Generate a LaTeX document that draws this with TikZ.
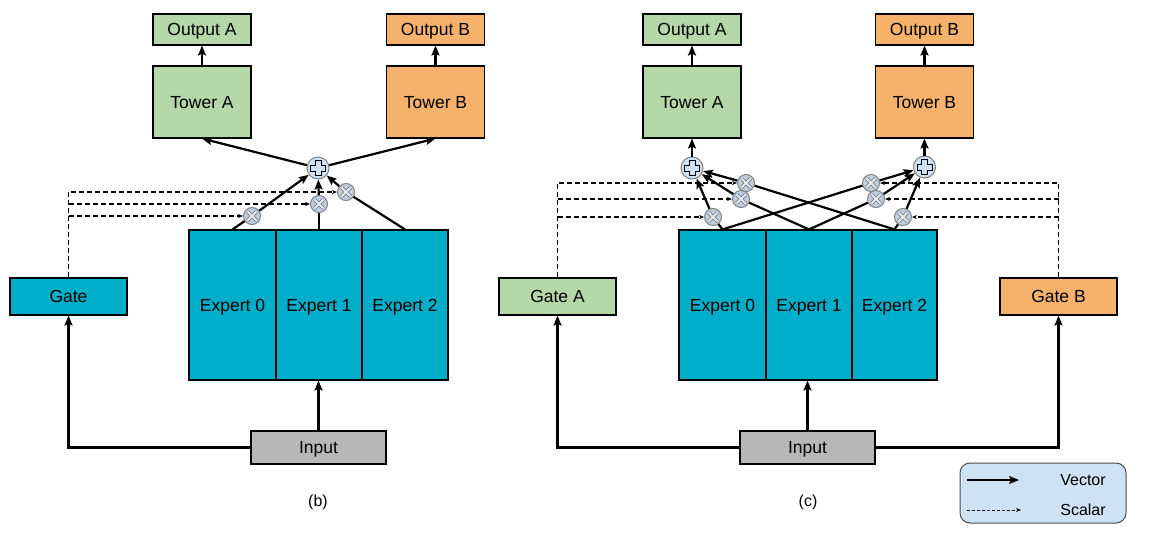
\documentclass[tikz,border=0pt]{standalone}
\usepackage{fontspec}
\setmainfont{Liberation Sans}
\usetikzlibrary{arrows.meta}

\definecolor{towgreen}{HTML}{B6D7A8}
\definecolor{toworange}{HTML}{F6B26B}
\definecolor{expblue}{HTML}{00AECA}
\definecolor{inpgray}{HTML}{B7B7B7}
\definecolor{opfill}{HTML}{CFE2F3}
\definecolor{mulfill}{HTML}{BFCFE2}
\newcommand\lblfont{\fontsize{17.5}{20}\selectfont}
\newcommand\legfont{\fontsize{16}{19}\selectfont}

\begin{document}
\begin{tikzpicture}[x=1pt,y=-1pt,
    box/.style={draw,line width=1.1pt,inner sep=0pt,text depth=-2pt,font=\lblfont},
    outbox/.style={box,minimum width=98pt,minimum height=31pt},
    towbox/.style={box,minimum width=98pt,minimum height=72pt},
    gatebox/.style={box,minimum width=117pt,minimum height=37pt},
    expbox/.style={box,fill=expblue,minimum width=86pt,minimum height=150pt},
    inbox/.style={box,fill=inpgray,minimum width=135pt,minimum height=33pt},
    addop/.style={circle,draw=gray,line width=1pt,fill=opfill,minimum size=22pt,inner sep=0pt},
    mulop/.style={circle,draw=gray,line width=1pt,fill=mulfill,minimum size=17pt,inner sep=0pt},
    vecline/.style={line width=2.2pt},
    vector/.style={vecline,-{Stealth[length=10pt,width=8pt,inset=2pt]}},
    scalar/.style={line width=1.1pt,dash pattern=on 5pt off 3pt,-{Stealth[length=5pt,width=4pt]}},
]
\useasboundingbox (0,0) rectangle (1151,536);

% (b): one gate, one sum for both towers
\node[outbox,fill=towgreen] (outA-b) at (202,29.5) {Output A};
\node[towbox,fill=towgreen] (towA-b) at (202,102) {Tower A};
\node[outbox,fill=toworange] (outB-b) at (435.5,29.5) {Output B};
\node[towbox,fill=toworange] (towB-b) at (435.5,102) {Tower B};
\node[addop] (add-b) at (318,168) {};
\node[mulop] (mul0-b) at (252,216) {};
\node[mulop] (mul1-b) at (319,204) {};
\node[mulop] (mul2-b) at (346,192) {};
\node[expbox,minimum width=87pt] (exp0-b) at (232.5,305) {Expert 0};
\node[expbox] (exp1-b) at (319,305) {Expert 1};
\node[expbox] (exp2-b) at (405,305) {Expert 2};
\node[gatebox,fill=expblue] (gate-b) at (68.5,296.5) {Gate};
\node[inbox] (in-b) at (318.5,447.5) {Input};
\node at (318,502) [font=\legfont] (cap-b) {(b)};

\draw[vector] (towA-b) -- (outA-b);
\draw[vector] (towB-b) -- (outB-b);
\draw[vector] (add-b) -- (towA-b.south);
\draw[vector] (add-b) -- (towB-b.south);
\foreach \i in {0,1,2} {
    \draw[vecline] (exp\i-b.north) -- (mul\i-b);
    \draw[vector] (mul\i-b) -- (add-b);
}
\draw[vector] (in-b.north) -- (in-b.north |- exp1-b.south);
\draw[vector] (in-b.west) -| (gate-b.south);
% Gate weights
\draw[scalar] (gate-b.north) |- (mul2-b.west);
\draw[scalar] (gate-b.north |- mul1-b.west) -- (mul1-b.west);
\draw[scalar] (gate-b.north |- mul0-b.west) -- (mul0-b.west);

% (c): one gate and one sum per tower
\node[outbox,fill=towgreen] (outA-c) at (692,29.5) {Output A};
\node[towbox,fill=towgreen] (towA-c) at (692,102) {Tower A};
\node[outbox,fill=toworange] (outB-c) at (924.5,29.5) {Output B};
\node[towbox,fill=toworange] (towB-c) at (924.5,102) {Tower B};
\node[addop] (addA-c) at (692,168) {};
\node[addop] (addB-c) at (924.5,167) {};
\node[mulop] (mulA0-c) at (713,217) {};
\node[mulop] (mulA1-c) at (741,199) {};
\node[mulop] (mulA2-c) at (746,183) {};
\node[mulop] (mulB0-c) at (871,183) {};
\node[mulop] (mulB1-c) at (876,199) {};
\node[mulop] (mulB2-c) at (903,217) {};
\node[expbox,minimum width=87pt] (exp0-c) at (722.5,305) {Expert 0};
\node[expbox] (exp1-c) at (809,305) {Expert 1};
\node[expbox,minimum width=85pt] (exp2-c) at (894.5,305) {Expert 2};
\node[gatebox,fill=towgreen] (gateA-c) at (557.5,296.5) {Gate A};
\node[gatebox,fill=toworange] (gateB-c) at (1058.5,296.5) {Gate B};
\node[inbox] (in-c) at (807.5,447.5) {Input};
\node at (808,502) [font=\legfont] (cap-c) {(c)};

\draw[vector] (towA-c) -- (outA-c);
\draw[vector] (towB-c) -- (outB-c);
\draw[vector] (addA-c) -- (towA-c.south -| addA-c);
\draw[vector] (addB-c) -- (towB-c.south -| addB-c);
\foreach \i in {0,1,2} {
    \draw[vecline] (exp\i-c.north) -- (mulA\i-c);
    \draw[vecline] (exp\i-c.north) -- (mulB\i-c);
    \draw[vector] (mulA\i-c) -- (addA-c);
    \draw[vector] (mulB\i-c) -- (addB-c);
}
\draw[vector] (in-c.north) -- (in-c.north |- exp1-c.south);
\draw[vector] (in-c.west) -| (gateA-c.south);
\draw[vector] (in-c.east) -| (gateB-c.south);
% Gate weights
\draw[scalar] (gateA-c.north) |- (mulA2-c.west);
\draw[scalar] (gateA-c.north |- mulA1-c.west) -- (mulA1-c.west);
\draw[scalar] (gateA-c.north |- mulA0-c.west) -- (mulA0-c.west);
\draw[scalar] (gateB-c.north) |- (mulB0-c.east);
\draw[scalar] (gateB-c.north |- mulB1-c.east) -- (mulB1-c.east);
\draw[scalar] (gateB-c.north |- mulB2-c.east) -- (mulB2-c.east);

% Operator signs
\foreach \p in {add-b,addA-c,addB-c}
    \draw[fill=opfill,line width=1pt,shift={(\p)}] (-3,-7.5) -- (3,-7.5) -- (3,-3) -- (7.5,-3) -- (7.5,3) -- (3,3) -- (3,7.5) -- (-3,7.5) -- (-3,3) -- (-7.5,3) -- (-7.5,-3) -- (-3,-3) -- cycle;
\foreach \m in {mul0-b,mul1-b,mul2-b,mulA0-c,mulA1-c,mulA2-c,mulB0-c,mulB1-c,mulB2-c} {
    \draw[line width=3.6pt,gray,shift={(\m)}] (-4.5,-4.5) -- (4.5,4.5) (-4.5,4.5) -- (4.5,-4.5);
    \draw[line width=1.8pt,mulfill!45!white,shift={(\m)}] (-4.5,-4.5) -- (4.5,4.5) (-4.5,4.5) -- (4.5,-4.5);
}

% Legend
\node[draw=gray!60!black,line width=1pt,fill=opfill,rounded corners=10pt,minimum width=166pt,minimum height=60pt] (legend) at (1043,493) {};
\coordinate (vecS) at (967,480);
\coordinate (vecE) at (1019,480);
\draw[vector,line width=1.8pt] (vecS) -- (vecE);
\node[font=\legfont] (vec-t) at (1083,480) {Vector};
\coordinate (scaS) at (967,510);
\coordinate (scaE) at (1021,510);
\draw[scalar,line width=0.9pt,dash pattern=on 3pt off 2pt] (scaS) -- (scaE);
\node[font=\legfont] (sca-t) at (1083,510) {Scalar};
\end{tikzpicture}
\end{document}
